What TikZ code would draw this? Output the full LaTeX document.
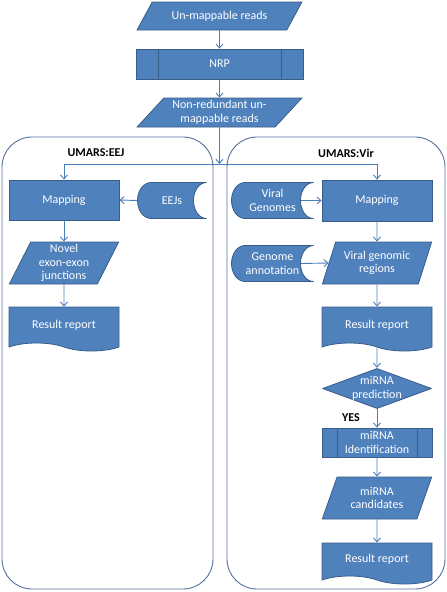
\documentclass[tikz,border=0pt]{standalone}
\usepackage{fontspec}
\setmainfont{Carlito}
\usetikzlibrary{calc}
\usetikzlibrary{arrows.meta}
\usetikzlibrary{shapes.geometric}
\usetikzlibrary{shapes.symbols}
\definecolor{boxfill}{RGB}{79,129,189}
\definecolor{boxedge}{RGB}{56,93,138}
\definecolor{linec}{RGB}{74,126,187}
\definecolor{framec}{RGB}{86,112,158}
\tikzset{
 box/.style={draw=boxedge,fill=boxfill,line width=0.8pt,text=white,align=center,inner sep=1pt,font=\fontsize{12}{13.5}\selectfont},
 proc/.style={box,rectangle,path picture={\draw[boxedge,line width=0.8pt] ([xshift=#1]path picture bounding box.north west) -- ([xshift=#1]path picture bounding box.south west) ([xshift=-#1]path picture bounding box.north east) -- ([xshift=-#1]path picture bounding box.south east);}},
 paraflat/.style={box,trapezium,trapezium stretches=true,trapezium left angle=48,trapezium right angle=132},
 para/.style={box,trapezium,trapezium stretches=true,trapezium left angle=67,trapezium right angle=113,minimum width=110,minimum height=42},
 doc/.style={box,tape,tape bend top=none,tape bend bottom=out and in,tape bend height=8pt,minimum width=110},
 proc box/.style={box,minimum width=110,minimum height=41},
 decision/.style={align=center,text=white,inner sep=0pt,font=\fontsize{12}{13.5}\selectfont,minimum width=110,minimum height=41,
  path picture={\filldraw[fill=boxfill,draw=boxedge,line width=0.8pt,line join=round]
   ([yshift=-0.6pt]path picture bounding box.north) -- ([xshift=-0.6pt]path picture bounding box.east)
   -- ([yshift=0.6pt]path picture bounding box.south) -- ([xshift=0.6pt]path picture bounding box.west) -- cycle;}},
 stored/.style={align=center,text=white,inner sep=1pt,font=\fontsize{12}{13.5}\selectfont,minimum width=#1,minimum height=37,
  path picture={
   \filldraw[fill=boxfill,draw=boxedge,line width=0.8pt]
    let \p1=(path picture bounding box.south west),\p2=(path picture bounding box.north east),\n1={(\y2-\y1)/2-0.5} in
    (\x2-0.5pt,\y2-0.5pt) -- (\x1+14pt,\y2-0.5pt)
    arc[start angle=90,end angle=270,x radius=13.5pt,y radius=\n1]
    -- (\x2-0.5pt,\y1+0.5pt)
    arc[start angle=270,end angle=90,x radius=13pt,y radius=\n1] -- cycle;}},
 container/.style={draw=framec,line width=0.9pt,rounded corners=30pt,minimum width=#1,minimum height=452},
 title/.style={font=\bfseries\fontsize{12}{13.5}\selectfont},
 flow/.style={draw=linec,line width=0.9pt,-{Straight Barb[length=4pt,width=7pt]}}
}
\begin{document}
\begin{tikzpicture}[x=1pt,y=1pt]
\useasboundingbox (0,0) rectangle (447,-592);
% frames
\node[container=211] (eejbox) at (107.5,-363) {};
\node[container=218] (virbox) at (336,-363) {};
\node[title] (eejname) at (96,-153) {UMARS:EEJ};
\node[title] (virname) at (346,-153) {UMARS:Vir};
% common part
\node[paraflat,minimum width=165,minimum height=28] (reads) at (219.5,-16) {Un-mappable reads};
\node[proc=22pt,minimum width=167,minimum height=30] (nrp) at (219.5,-64) {NRP};
\node[paraflat,minimum width=165,minimum height=29] (nonred) at (219.5,-112.5) {Non-redundant un-\\mappable reads};
\coordinate (split) at (219.5,-164);
% UMARS:EEJ
\node[proc box,minimum height=40] (emap) at (64,-200) {Mapping};
\node[stored=70] (eejs) at (172,-200.5) {EEJs};
\node[para] (novel) at (64,-263) {Novel\\exon-exon\\junctions};
\node[doc,minimum height=44] (eres) at (64,-325) {Result report};
% UMARS:Vir
\node[proc box] (vmap) at (377,-200.5) {Mapping};
\node[stored=83] (vgen) at (272.5,-200.5) {Viral\\Genomes};
\node[para] (vreg) at (377,-263) {Viral genomic\\regions};
\node[stored=83] (gann) at (272.5,-263.5) {Genome\\annotation};
\node[doc,minimum height=44] (vres) at (377,-325) {Result report};
\node[decision] (pred) at (377,-388.5) {miRNA\\prediction};
\node[title] (yes) at (351,-418) {YES};
\node[proc=15pt,minimum width=110,minimum height=29] (mid) at (377,-442.5) {miRNA\\Identification};
\node[para] (cand) at (377,-498) {miRNA\\candidates};
\node[doc,minimum height=41] (vres2) at (377,-559.5) {Result report};
% connectors
\draw[flow] (reads) -- (nrp);
\draw[flow] (nrp) -- (nonred);
\draw[flow] (nonred) -- (split);
\draw[flow] (split) -| (emap);
\draw[flow] (split) -| (vmap);
\draw[flow] (eejs.west) -- (emap.east);
\draw[flow] (emap) -- (novel);
\draw[flow] (novel) -- (eres);
\draw[flow] ([xshift=-13]vgen.east) -- (vmap.west);
\draw[flow] ([xshift=-13]gann.east) -- (vreg.west);
\draw[flow] (vmap) -- (vreg);
\draw[flow] (vreg) -- (vres);
\draw[flow] (vres) -- (pred);
\draw[flow] (pred) -- (mid);
\draw[flow] (mid) -- (cand);
\draw[flow] (cand) -- (vres2);
\end{tikzpicture}
\end{document}
